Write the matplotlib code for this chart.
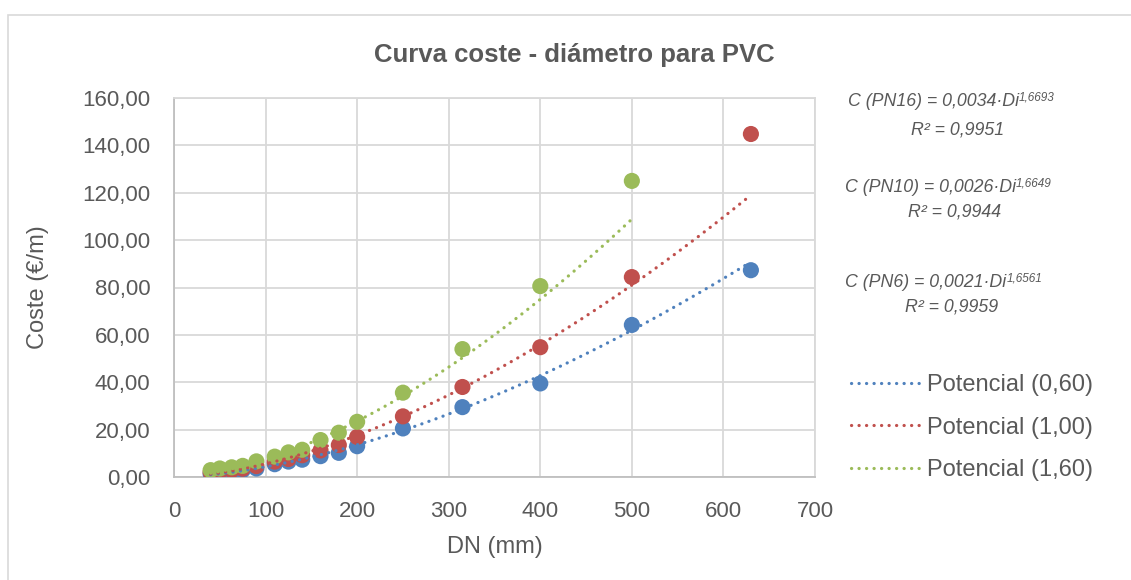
import numpy as np
import matplotlib as mpl
import matplotlib.pyplot as plt
import matplotlib.patches as mpatches
from matplotlib.lines import Line2D

mpl.rcParams["font.family"] = ["Liberation Sans", "DejaVu Sans"]

# ── DATA ─────────────────────────────────────────────────────────────────────
DN = [40, 50, 63, 75, 90, 110, 125, 140, 160, 180, 200, 250, 315, 400, 500, 630]
COST_PN6 = [1.3, 1.7, 2.3, 2.9, 3.6, 5.4, 6.5, 7.3, 8.8, 10.2, 13.0, 20.5, 29.5, 39.5, 64.2, 87.3]
COST_PN10 = [2.0, 2.4, 2.9, 3.5, 4.6, 6.5, 7.6, 9.2, 11.2, 13.5, 16.9, 25.6, 38.0, 54.8, 84.4, 144.8]
DN_PN16 = [40, 50, 63, 75, 90, 110, 125, 140, 160, 180, 200, 250, 315, 400, 500]
COST_PN16 = [2.9, 3.6, 4.1, 4.7, 6.6, 8.6, 10.4, 11.5, 15.6, 18.7, 23.3, 35.6, 54.0, 80.6, 125.0]

# power trendlines as printed on the chart: C = A * DN^B  (PN6, PN10, PN16)
TREND_A = [0.0021, 0.0026, 0.0034]
TREND_B = [1.6561, 1.6649, 1.6693]
R2 = [0.9959, 0.9944, 0.9951]
SERIES_NAMES = ["PN6", "PN10", "PN16"]
TREND_LABELS = ["Potencial (0,60)", "Potencial (1,00)", "Potencial (1,60)"]

TITLE = "Curva coste - diámetro para PVC"
XTICKS = [0, 100, 200, 300, 400, 500, 600, 700]
YTICKS = [0, 20, 40, 60, 80, 100, 120, 140, 160]

# ── APPEARANCE ───────────────────────────────────────────────────────────────
BLUE, RED, GREEN = "#4F81BD", "#C0504D", "#9BBB59"
TEXT = "#595959"
GRID = "#D9D9D9"
DOTS = (0, (0.05, 2.3))


def comma(v, nd):
    return f"{v:.{nd}f}".replace(".", ",")


W, H = 1131, 580
fig = plt.figure(figsize=(W / 100, H / 100), dpi=100)
ax = fig.add_axes([174 / W, 1 - 477 / H, (815 - 174) / W, (477 - 98) / H])

# chart area border (only top/left visible in the crop)
fig.patches.append(mpatches.Rectangle(
    (8 / W, -0.1), 1.2, 1 - 15 / H + 0.1, transform=fig.transFigure,
    facecolor="none", edgecolor=GRID, linewidth=1.2, zorder=0))

series = [(DN, COST_PN6, BLUE), (DN, COST_PN10, RED), (DN_PN16, COST_PN16, GREEN)]

handles = []
for (x, y, color), a, b in zip(series, TREND_A, TREND_B):
    x = np.asarray(x, float)
    xs = np.linspace(x.min(), x.max(), 200)
    ax.scatter(x, y, s=135, color=color, edgecolors="none", zorder=3)
    ln, = ax.plot(xs, a * xs ** b, color=color, linewidth=2.3,
                  linestyle=DOTS, dash_capstyle="round", zorder=4)
    handles.append(ln)

ax.set_xlim(0, 700)
ax.set_ylim(0, 160)
ax.set_xticks(XTICKS)
ax.set_yticks(YTICKS)
ax.set_yticklabels([comma(v, 2) for v in YTICKS])
ax.grid(True, color=GRID, linewidth=1.3, zorder=0)
ax.set_axisbelow(True)
for s in ax.spines.values():
    s.set_color(GRID)
    s.set_linewidth(1.3)
ax.spines["left"].set_color("#BFBFBF")
ax.spines["bottom"].set_color("#BFBFBF")
ax.tick_params(length=0, labelsize=16, colors=TEXT)
ax.tick_params(axis="y", pad=17)
ax.tick_params(axis="x", pad=17)
ax.set_xlabel("DN (mm)", fontsize=17, color=TEXT, labelpad=10)
ax.set_ylabel("Coste (€/m)", fontsize=17, color=TEXT, labelpad=24)

fig.text(574 / W, 1 - 55 / H, TITLE, ha="center", va="center",
         fontsize=18.5, fontweight="bold", color=TEXT)

# trendline equations (PN16 on top, PN6 at bottom)
eq_pos = {"PN16": (848, 102, 958, 130), "PN10": (845, 188, 955, 212),
          "PN6": (845, 283, 952, 307)}
for name, a, b, r2 in zip(SERIES_NAMES, TREND_A, TREND_B, R2):
    xl, y1, xc, y2 = eq_pos[name]
    t = fig.text(xl / W, 1 - y1 / H, f"C ({name}) = {comma(a, 4)}·Di",
                 ha="left", va="center", fontsize=12.8, style="italic", color=TEXT)
    ax.annotate(comma(b, 4), xy=(1.0, 0.75), xycoords=t, ha="left", va="center",
                fontsize=8.5, style="italic", color=TEXT, annotation_clip=False)
    fig.text(xc / W, 1 - y2 / H, f"R² = {comma(r2, 4)}", ha="center", va="center",
             fontsize=12.8, style="italic", color=TEXT)

leg_handles = [Line2D([], [], color=h.get_color(), linewidth=2.3,
                      linestyle=DOTS, dash_capstyle="round") for h in handles]
fig.legend(leg_handles, TREND_LABELS, loc="upper left",
           bbox_to_anchor=(842 / W, 1 - 365 / H), frameon=False,
           fontsize=17, labelcolor=TEXT, handlelength=2.9, handletextpad=0.3,
           labelspacing=0.86, borderaxespad=0)

fig.savefig("out.png", dpi=100, facecolor="white")
